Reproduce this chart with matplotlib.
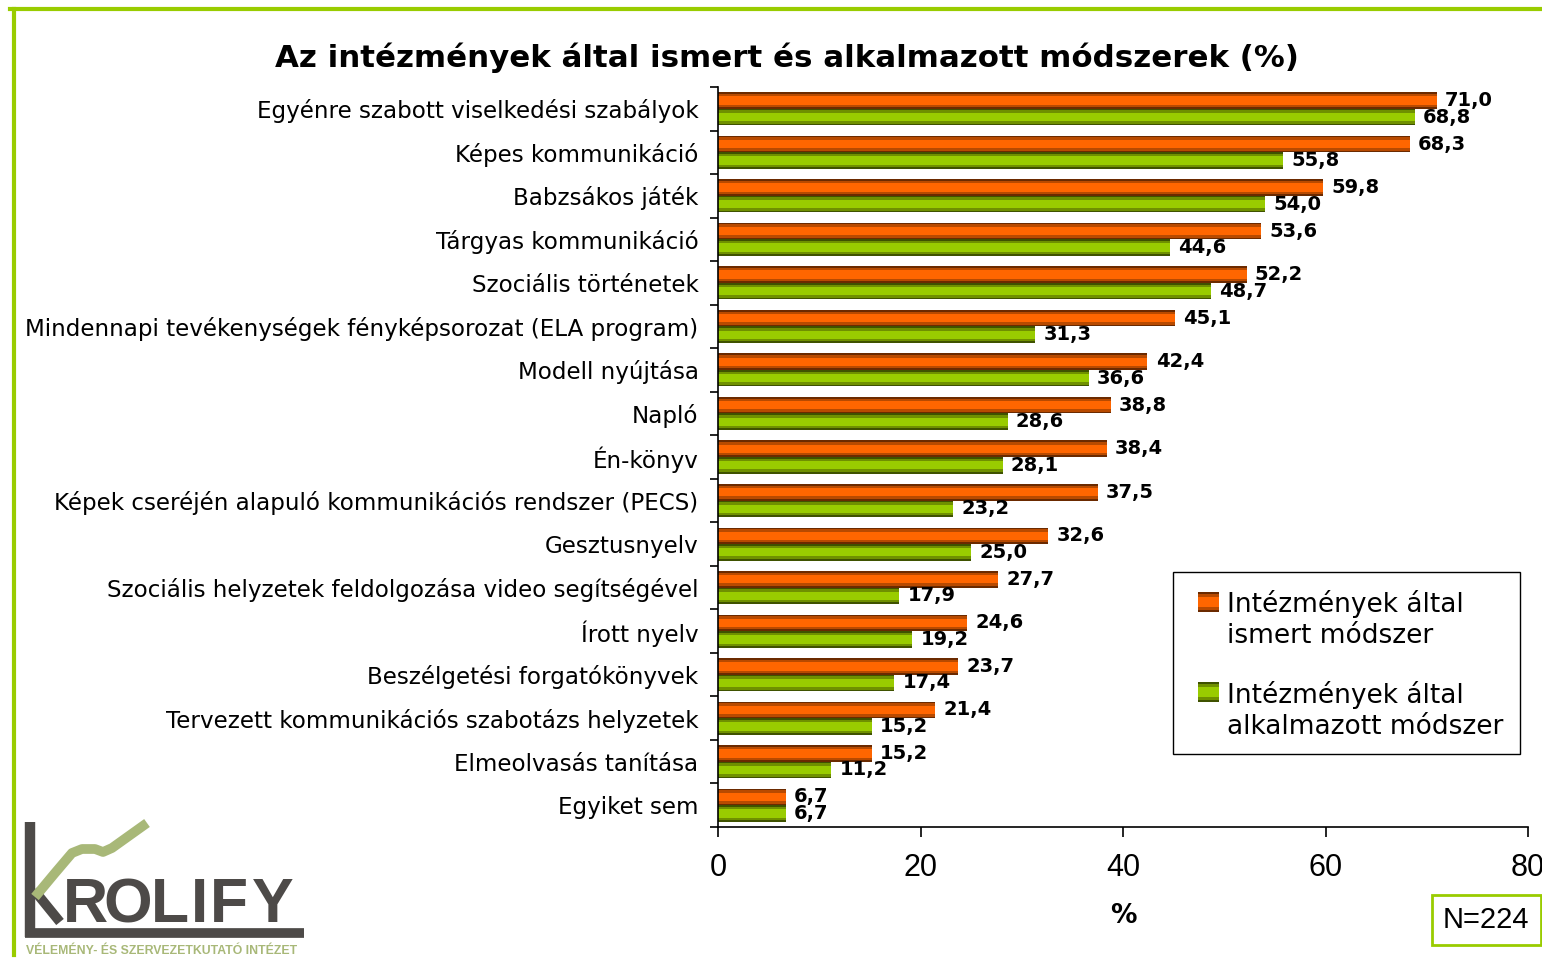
import matplotlib
matplotlib.use("Agg")
import matplotlib.pyplot as plt
from matplotlib.lines import Line2D
from matplotlib.patches import Rectangle
import numpy as np

categories = [
    "Egyénre szabott viselkedési szabályok",
    "Képes kommunikáció",
    "Babzsákos játék",
    "Tárgyas kommunikáció",
    "Szociális történetek",
    "Mindennapi tevékenységek fényképsorozat (ELA program)",
    "Modell nyújtása",
    "Napló",
    "Én-könyv",
    "Képek cseréjén alapuló kommunikációs rendszer (PECS)",
    "Gesztusnyelv",
    "Szociális helyzetek feldolgozása video segítségével",
    "Írott nyelv",
    "Beszélgetési forgatókönyvek",
    "Tervezett kommunikációs szabotázs helyzetek",
    "Elmeolvasás tanítása",
    "Egyiket sem",
]
ismert = [71.0, 68.3, 59.8, 53.6, 52.2, 45.1, 42.4, 38.8, 38.4, 37.5,
          32.6, 27.7, 24.6, 23.7, 21.4, 15.2, 6.7]
alkalmazott = [68.8, 55.8, 54.0, 44.6, 48.7, 31.3, 36.6, 28.6, 28.1, 23.2,
               25.0, 17.9, 19.2, 17.4, 15.2, 11.2, 6.7]
series_names = ["Intézmények által\nismert módszer",
                "Intézmények által\nalkalmazott módszer"]
x_ticks = [0, 20, 40, 60, 80]

W, H = 1542, 963
fig = plt.figure(figsize=(W / 100, H / 100), dpi=100)
ax = fig.add_axes([718 / W, 1 - 827 / H, 810 / W, 740 / H])

y = np.arange(len(categories))
h = 0.38

# fake cylinder shading: layered bars, dark outside, bright inside
orange_shades = ["#6b2a00", "#b84a00", "#ff6600"]
green_shades = ["#3f5200", "#6f9000", "#99cc00"]
fracs = [1.0, 0.8, 0.5]
for col, f in zip(orange_shades, fracs):
    ax.barh(y - h / 2, ismert, height=h * f, color=col, linewidth=0)
for col, f in zip(green_shades, fracs):
    ax.barh(y + h / 2, alkalmazott, height=h * f, color=col, linewidth=0)

fmt = lambda v: f"{v:.1f}".replace(".", ",")
for i in range(len(categories)):
    ax.annotate(fmt(ismert[i]), (ismert[i], y[i] - h / 2), xytext=(6, 0),
                textcoords="offset points", va="center", ha="left",
                fontsize=14, fontweight="bold")
    ax.annotate(fmt(alkalmazott[i]), (alkalmazott[i], y[i] + h / 2), xytext=(6, 0),
                textcoords="offset points", va="center", ha="left",
                fontsize=14, fontweight="bold")

ax.set_xlim(0, 80)
ax.set_ylim(len(categories) - 0.5, -0.5)
ax.set_xticks(x_ticks)
ax.set_xticklabels([str(t) for t in x_ticks], fontsize=22, family="Liberation Sans")
ax.tick_params(axis="x", direction="out", length=7, width=1.2, pad=12)
ax.set_yticks(y)
ax.set_yticklabels(categories, fontsize=16.6)
ax.tick_params(axis="y", which="major", length=0, pad=14)
ax.set_yticks(np.arange(len(categories) + 1) - 0.5, minor=True)
ax.tick_params(axis="y", which="minor", direction="out", length=6, width=1.2)
ax.set_xlabel("%", fontsize=19, fontweight="bold", labelpad=14)
for s in ["top", "right"]:
    ax.spines[s].set_visible(False)
ax.spines["left"].set_linewidth(1.2)
ax.spines["bottom"].set_linewidth(1.2)

fig.text(787 / W, 1 - 58 / H, "Az intézmények által ismert és alkalmazott módszerek (%)",
         ha="center", va="center", fontsize=22.2, fontweight="bold")

# legend, built by hand so the swatch sits on the first text line
tf = fig.transFigure
fig.add_artist(Rectangle((1173 / W, 1 - 754 / H), 347 / W, 182 / H, fill=False,
                         ec="black", lw=1.0, transform=tf))
for (sy, ty), shades, name in zip([(602, 619), (692, 710)],
                                  [orange_shades, green_shades], series_names):
    for col, f in zip(shades, fracs):
        hh = 20 * f
        fig.add_artist(Rectangle((1198 / W, 1 - (sy + hh / 2) / H), 21 / W, hh / H,
                                 color=col, lw=0, transform=tf))
    fig.text(1227 / W, 1 - ty / H, name, ha="left", va="center", fontsize=19,
             linespacing=1.25)

# green page frame
fig.add_artist(Line2D([10 / W, 1], [1 - 9.5 / H] * 2, color="#99cc00", lw=3,
                      transform=tf))
fig.add_artist(Line2D([13.5 / W] * 2, [1 - 9 / H, 1 - 955 / H], color="#99cc00",
                      lw=3, transform=tf))

# N box
fig.text(1443 / W, 1 - 920 / H, "N=224", ha="left", va="center", fontsize=21,
         family="Liberation Sans",
         bbox=dict(boxstyle="square,pad=0.38", fc="white", ec="#99cc00", lw=2))

# logo
gray = "#4d4a48"
lg = "#a8b878"
fig.add_artist(Line2D([30 / W] * 2, [1 - 822 / H, 1 - 937 / H], color=gray, lw=7.5,
                      transform=tf, solid_capstyle="butt"))
fig.add_artist(Line2D([25 / W, 304 / W], [1 - 932.5 / H] * 2, color=gray, lw=7,
                      transform=tf, solid_capstyle="butt"))
fig.add_artist(Line2D([34 / W, 60 / W], [1 - 890 / H, 1 - 922 / H], color=gray, lw=7,
                      transform=tf, solid_capstyle="butt"))
wx = [35, 55, 72, 82, 95, 103, 112, 147]
wy = [897, 873, 853, 849, 849, 852, 848, 823]
fig.add_artist(Line2D([v / W for v in wx], [1 - v / H for v in wy], color=lg, lw=7,
                      transform=tf, solid_capstyle="butt", solid_joinstyle="round"))
for ch, cx in zip("ROLIFY", [85, 128, 170, 199, 229, 273]):
    fig.text(cx / W, 1 - 922 / H, ch, ha="center", va="baseline", fontsize=45,
             fontweight="bold", color=gray, family="Liberation Sans")
fig.text(26 / W, 1 - 951 / H, "VÉLEMÉNY- ÉS SZERVEZETKUTATÓ INTÉZET", ha="left",
         va="center", fontsize=8.8, fontweight="bold", color=lg,
         family="Liberation Sans")

fig.savefig("out.png", dpi=100)
